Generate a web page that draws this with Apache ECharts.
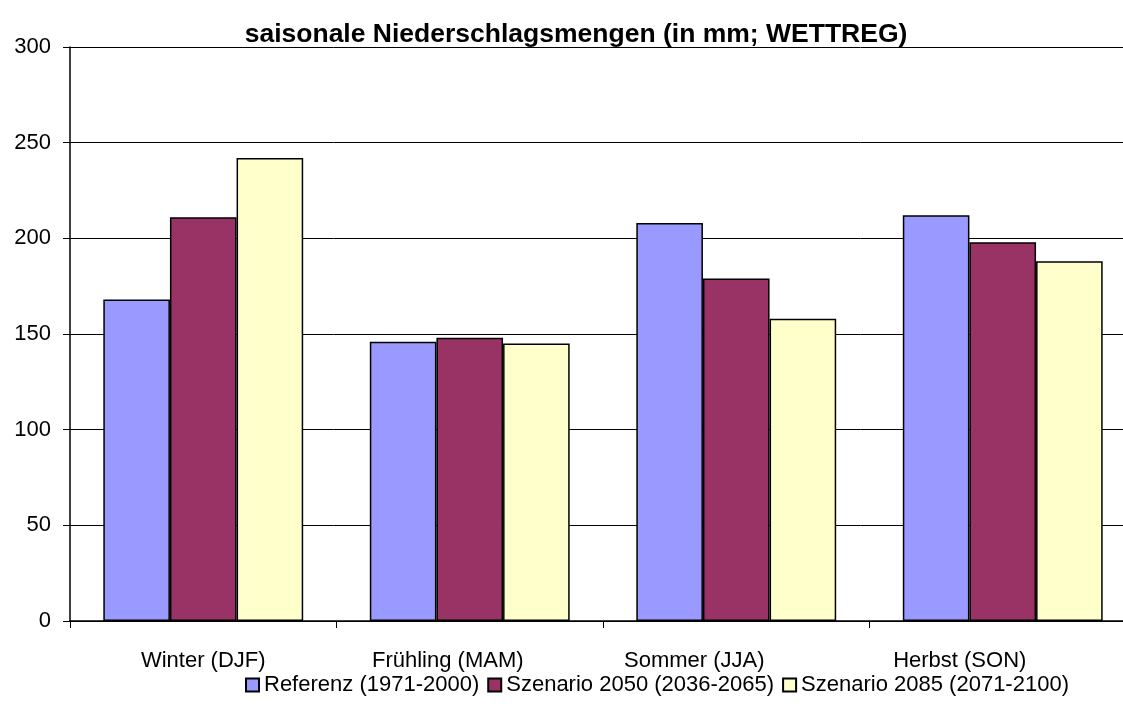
<!DOCTYPE html>
<html>
<head>
<meta charset="utf-8">
<script src="https://cdn.jsdelivr.net/npm/echarts@6/dist/echarts.min.js"></script>
<style>
  html, body { margin: 0; padding: 0; background: #fff; }
  #main { width: 1123px; height: 724px; }
</style>
</head>
<body>
<div id="main"></div>
<script type="text/javascript">
// Daten
var seasons = ['Winter (DJF)', 'Frühling (MAM)', 'Sommer (JJA)', 'Herbst (SON)'];
var referenz = [168, 146, 208, 212];
var szenario2050 = [211, 148, 179, 198];
var szenario2085 = [242, 145, 158, 188];
var yTicks = [0, 50, 100, 150, 200, 250, 300];

// Beschriftungen sitzen im Original etwas links der Gruppenmitte (px)
var labelShift = [0, 22, 42, 43];

var myChart = echarts.init(document.getElementById('main'));
var fontName = 'Liberation Sans, Arial, sans-serif';

function barSeries(name, data, color) {
  return {
    name: name,
    type: 'bar',
    data: data,
    barGap: '0%',
    barCategoryGap: '25%',
    itemStyle: { color: color, borderColor: '#000', borderWidth: 1.5 }
  };
}

var option = {
  backgroundColor: '#fff',
  animation: false,
  textStyle: { fontFamily: fontName },
  title: {
    text: 'saisonale Niederschlagsmengen (in mm; WETTREG)',
    left: 571, top: 16, textAlign: 'center',
    textStyle: { fontSize: 26.5, fontWeight: 'bold', color: '#000', fontFamily: fontName }
  },
  legend: {
    bottom: 23, left: 240,
    itemWidth: 13, itemHeight: 13, itemGap: 8,
    icon: 'rect',
    textStyle: { fontSize: 22, color: '#000', fontFamily: fontName },
    data: ['Referenz (1971-2000)', 'Szenario 2050 (2036-2065)', 'Szenario 2085 (2071-2100)']
  },
  // Plotfläche läuft rechts über den Bildrand hinaus (wie im Original)
  grid: { left: 70, width: 1066, top: 47, bottom: 103, outerBoundsMode: 'none' },
  xAxis: {
    type: 'category',
    data: seasons.map(function (s, i) {
      return { value: s, textStyle: { padding: [0, 2 * labelShift[i], 0, 0] } };
    }),
    axisLine: { lineStyle: { color: '#000', width: 1.5 } },
    axisTick: { show: true, length: 7, lineStyle: { color: '#000' } },
    axisLabel: { fontSize: 22, color: '#000', margin: 29 }
  },
  yAxis: {
    type: 'value',
    min: yTicks[0], max: yTicks[yTicks.length - 1], interval: 50,
    axisLine: { show: true, lineStyle: { color: '#000', width: 1.5 } },
    axisTick: { show: true, inside: false, length: 7, lineStyle: { color: '#000' } },
    axisLabel: { fontSize: 22, color: '#000', margin: 19 },
    splitLine: { lineStyle: { color: '#000', width: 1 } }
  },
  series: [
    barSeries('Referenz (1971-2000)', referenz, '#9999FF'),
    barSeries('Szenario 2050 (2036-2065)', szenario2050, '#993366'),
    barSeries('Szenario 2085 (2071-2100)', szenario2085, '#FFFFCC')
  ]
};

myChart.setOption(option);
</script>
</body>
</html>
